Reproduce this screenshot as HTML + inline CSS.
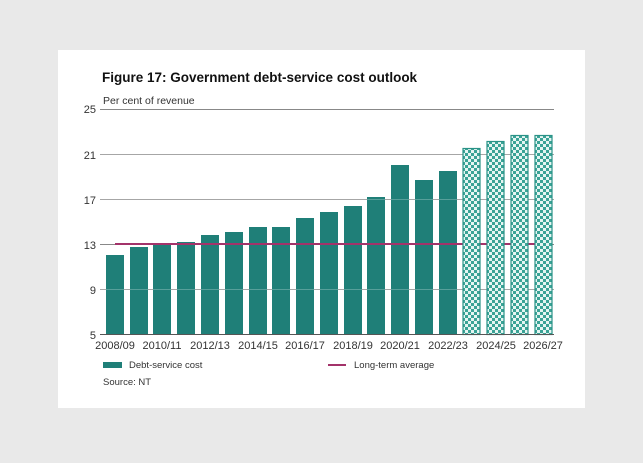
<!DOCTYPE html><html><head><style>body{margin:0;background:#e9e9e9;width:643px;height:458px;overflow:hidden}
svg{font-family:"Liberation Sans",sans-serif}</style></head><body>
<svg width="643" height="458" viewBox="0 0 643 458">
<defs><pattern id="ck" width="6" height="6" patternUnits="userSpaceOnUse"><rect width="6" height="6" fill="#e6f5f2"/><rect width="3" height="3" fill="#3aa396"/><rect x="3" y="3" width="3" height="3" fill="#3aa396"/></pattern></defs>
<rect x="58" y="50" width="527" height="358" fill="#fff"/>
<text x="102" y="82" font-size="13.5" font-weight="bold" fill="#111">Figure 17: Government debt-service cost outlook</text>
<text x="103" y="104" font-size="10.5" fill="#333">Per cent of revenue</text>
<g stroke="#888" stroke-width="1"><line x1="100" y1="109.5" x2="554" y2="109.5"/><line x1="100" y1="154.5" x2="554" y2="154.5"/><line x1="100" y1="199.5" x2="554" y2="199.5"/><line x1="100" y1="244.5" x2="554" y2="244.5"/><line x1="100" y1="289.5" x2="554" y2="289.5"/></g>
<g font-size="11" fill="#333" text-anchor="end"><text x="96" y="113">25</text><text x="96" y="159">21</text><text x="96" y="204">17</text><text x="96" y="249">13</text><text x="96" y="294">9</text><text x="96" y="339">5</text></g>
<g fill="#1f7f78">
<rect x="106" y="255" width="18" height="80"/><rect x="130" y="247" width="18" height="88"/><rect x="153" y="245" width="18" height="90"/><rect x="177" y="242" width="18" height="93"/><rect x="201" y="235" width="18" height="100"/><rect x="225" y="232" width="18" height="103"/><rect x="249" y="227" width="18" height="108"/><rect x="272" y="227" width="18" height="108"/><rect x="296" y="218" width="18" height="117"/><rect x="320" y="212" width="18" height="123"/><rect x="344" y="206" width="18" height="129"/><rect x="367" y="197" width="18" height="138"/><rect x="391" y="165" width="18" height="170"/><rect x="415" y="180" width="18" height="155"/><rect x="439" y="171" width="18" height="164"/></g>
<g stroke="#fff" stroke-opacity="0.25" stroke-width="1"><line x1="100" y1="154.5" x2="554" y2="154.5"/><line x1="100" y1="199.5" x2="554" y2="199.5"/><line x1="100" y1="289.5" x2="554" y2="289.5"/></g>
<line x1="115" y1="244" x2="541" y2="244" stroke="#a3336a" stroke-width="2"/>
<g fill="url(#ck)" stroke="#2a9287" stroke-width="1.2">
<rect x="463" y="148.5" width="17" height="186"/><rect x="487" y="141.5" width="17" height="193"/><rect x="511" y="135.5" width="17" height="199"/><rect x="535" y="135.5" width="17" height="199"/></g>
<line x1="100" y1="334.5" x2="554" y2="334.5" stroke="#555"/>
<g font-size="11" fill="#333" text-anchor="middle"><text x="115" y="349">2008/09</text><text x="162" y="349">2010/11</text><text x="210" y="349">2012/13</text><text x="258" y="349">2014/15</text><text x="305" y="349">2016/17</text><text x="353" y="349">2018/19</text><text x="400" y="349">2020/21</text><text x="448" y="349">2022/23</text><text x="496" y="349">2024/25</text><text x="543" y="349">2026/27</text></g>
<rect x="103" y="362" width="19" height="6" fill="#1f7f78"/>
<text x="129" y="368" font-size="9.5" fill="#333">Debt-service cost</text>
<line x1="328" y1="365" x2="346" y2="365" stroke="#a3336a" stroke-width="2"/>
<text x="354" y="368" font-size="9.5" fill="#333">Long-term average</text>
<text x="103" y="385" font-size="9.5" fill="#333">Source: NT</text>
</svg></body></html>
